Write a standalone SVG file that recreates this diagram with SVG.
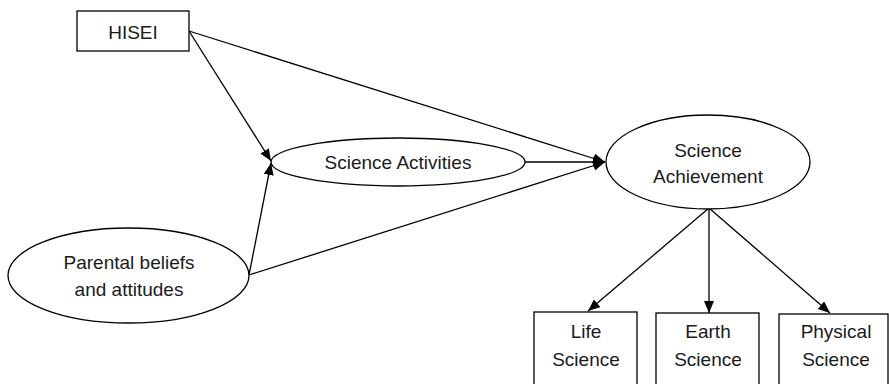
<svg xmlns="http://www.w3.org/2000/svg" width="889" height="384" viewBox="0 0 889 384">
<style>
.n{fill:#fff;stroke:#000;stroke-width:1.3}
.t{font-family:"Liberation Sans",Arial,sans-serif;font-size:19px;fill:#1a1a1a;text-anchor:middle}
.c{stroke:#000;stroke-width:1.3;fill:none;marker-end:url(#ah)}
</style>
<defs>
<marker id="ah" markerUnits="userSpaceOnUse" markerWidth="13" markerHeight="11" refX="12" refY="5" orient="auto">
<path d="M0,0 L12,5 L0,10 z" fill="#000"/>
</marker>
</defs>
<rect width="889" height="384" fill="#fff"/>
<g id="connectors">
<line class="c" x1="189" y1="31" x2="605" y2="162"/>
<line class="c" x1="189" y1="31" x2="271" y2="161"/>
<line class="c" x1="249" y1="275" x2="271" y2="163"/>
<line class="c" x1="249" y1="275" x2="605" y2="162"/>
<line class="c" x1="525" y1="162" x2="605" y2="162"/>
<line class="c" x1="709" y1="208" x2="588" y2="311"/>
<line class="c" x1="709" y1="208" x2="709" y2="313"/>
<line class="c" x1="709" y1="208" x2="830" y2="313"/>
</g>
<g id="hisei">
<rect class="n" x="77" y="11" width="112" height="40"/>
<text class="t" x="133" y="39">HISEI</text>
</g>
<g id="science-activities">
<ellipse class="n" cx="398" cy="162" rx="127" ry="24"/>
<text class="t" x="398" y="169">Science Activities</text>
</g>
<g id="parental">
<ellipse class="n" cx="128.5" cy="275.5" rx="120.5" ry="47.5"/>
<text class="t" x="129" y="269">Parental beliefs</text>
<text class="t" x="129" y="296">and attitudes</text>
</g>
<g id="science-achievement">
<ellipse class="n" cx="708" cy="162" rx="102" ry="47"/>
<text class="t" x="708" y="157">Science</text>
<text class="t" x="708" y="183">Achievement</text>
</g>
<g id="life-science">
<rect class="n" x="534" y="312" width="103" height="90"/>
<text class="t" x="586" y="338">Life</text>
<text class="t" x="586" y="366">Science</text>
</g>
<g id="earth-science">
<rect class="n" x="656" y="313" width="103" height="90"/>
<text class="t" x="708" y="338">Earth</text>
<text class="t" x="708" y="366">Science</text>
</g>
<g id="physical-science">
<rect class="n" x="779" y="314" width="109" height="90"/>
<text class="t" x="836" y="338">Physical</text>
<text class="t" x="836" y="366">Science</text>
</g>
</svg>
